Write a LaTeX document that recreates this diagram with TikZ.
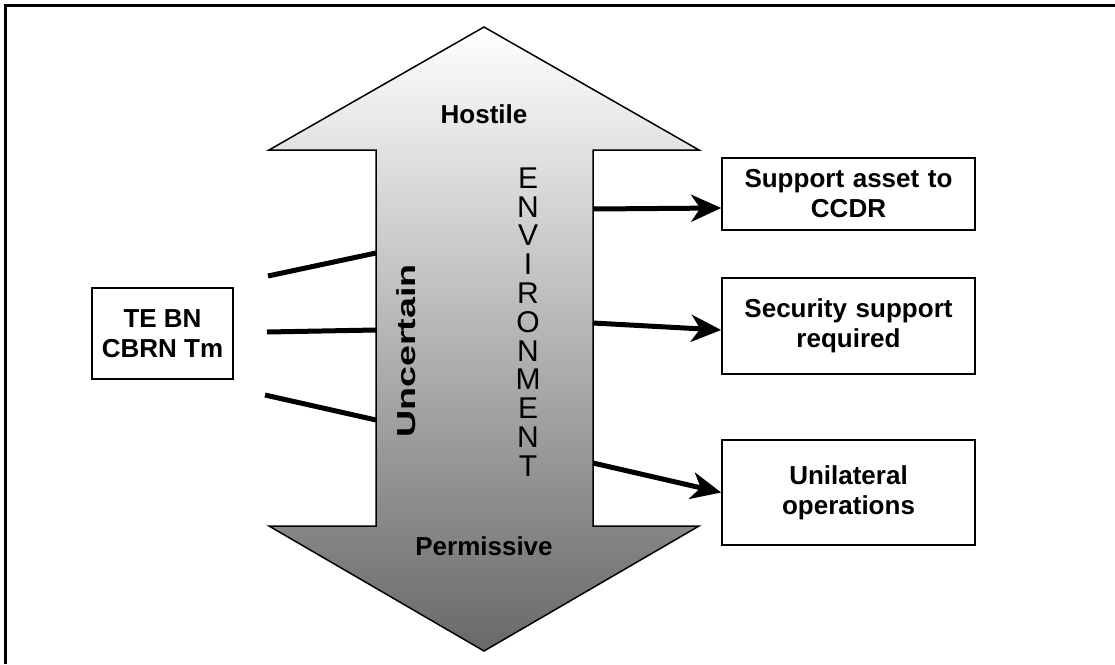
\documentclass[tikz,border=0pt]{standalone}
\usepackage{fontspec}
\usepackage{graphicx}
\setmainfont{Liberation Sans}
\usetikzlibrary{arrows.meta}
\definecolor{shadetop}{gray}{1.0}
\definecolor{shademid}{gray}{0.81}
\definecolor{shadebot}{gray}{0.41}
\begin{document}
\begin{tikzpicture}[x=1pt,y=-1pt,
  txt/.style={font=\fontsize{26}{30}\selectfont\bfseries, align=center, inner sep=0pt},
  box/.style={draw, line width=1.6pt, txt, minimum width=253pt, text width=245pt},
  link/.style={line width=5pt},
  feed/.style={line width=5pt, -{Stealth[length=30pt,width=27pt,inset=9pt]}}]
\useasboundingbox (0,0) rectangle (1115,664);
% frame
\draw[line width=3pt] (5,664) -- (5,5) -- (1115,5);
% double-headed environment arrow
\shadedraw[line width=1.5pt, top color=shadetop, middle color=shademid, bottom color=shadebot]
  (484,27) -- (699,150) -- (593,150) -- (593,526) -- (699,526) -- (484,651)
  -- (269,526) -- (376,526) -- (376,150) -- (269,150) -- cycle;
\node[txt, anchor=base] (hostile) at (484,123) {Hostile};
\node[txt, anchor=base] (permissive) at (484,555) {Permissive};
\node[txt, rotate=90] (uncertain) at (406,351) {\scalebox{1.45}[1]{Uncertain}};
\node[font=\fontsize{30}{28.8}\selectfont, align=center, inner sep=0pt] (env) at (528,322)
  {E\\N\\V\\I\\R\\O\\N\\M\\E\\N\\T};
% boxes
\node[draw, line width=1.6pt, txt, minimum width=141pt, minimum height=91pt] (team) at (162.5,333.5) {TE BN\\CBRN Tm};
\node[box, minimum height=72pt] (b1) at (848.5,194) {Support asset to\\CCDR};
\node[box, minimum height=96pt] (b2) at (848.5,326) {Security support\\required};
\node[box, minimum height=105pt] (b3) at (848.5,492.5) {Unilateral\\operations};
% attachment points on the shaft
\coordinate (l1a) at (268,276); \coordinate (l1b) at (376,253);
\coordinate (l2a) at (267,332); \coordinate (l2b) at (376,330);
\coordinate (l3a) at (265,395); \coordinate (l3b) at (376,420);
\coordinate (r1) at (593,209);
\coordinate (r2) at (593,323);
\coordinate (r3) at (593,463);
\draw[link] (l1a) -- (l1b);
\draw[link] (l2a) -- (l2b);
\draw[link] (l3a) -- (l3b);
\draw[feed] (r1) -- ([yshift=-14pt]b1.west);
\draw[feed] (r2) -- ([yshift=-4pt]b2.west);
\draw[feed] (r3) -- (b3.west);
\end{tikzpicture}
\end{document}
